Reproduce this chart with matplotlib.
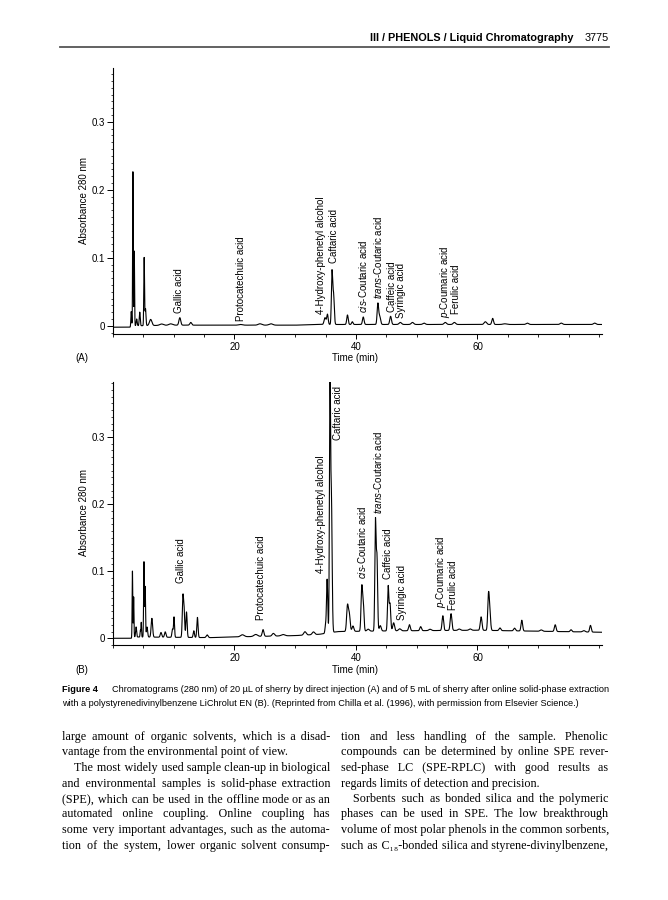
import numpy as np
import matplotlib
matplotlib.use("Agg")
import matplotlib.pyplot as plt
from matplotlib.ticker import MultipleLocator, FuncFormatter
from matplotlib.font_manager import FontProperties

plt.rcParams['font.family'] = 'Liberation Sans'
plt.rcParams['mathtext.fontset'] = 'custom'
plt.rcParams['mathtext.rm'] = 'Liberation Sans'
plt.rcParams['mathtext.it'] = 'Liberation Sans:italic'

W, H = 668, 900

# chromatogram (A): peaks -- time (min), height (AU), sigma (min)
a_times = [3.0, 3.28, 3.5, 3.9, 4.4, 5.13, 5.35, 6.2, 8.0, 9.5, 11.0, 12.8,
           21.0, 24.2, 26.0, 34.9, 35.3, 36.05, 36.3, 38.6, 39.4, 41.2, 43.6,
           43.9, 45.7, 47.3, 49.3, 51.2, 54.7, 56.2, 61.3, 62.5, 64.5, 68.2,
           73.8, 79.3]
a_heights = [0.022, 0.228, 0.11, 0.01, 0.02, 0.1, 0.025, 0.009, 0.002, 0.002,
             0.011, 0.004, 0.001, 0.002, 0.002, 0.01, 0.015, 0.075, 0.045,
             0.014, 0.004, 0.011, 0.03, 0.012, 0.012, 0.003, 0.003, 0.002,
             0.003, 0.003, 0.004, 0.009, 0.001, 0.002, 0.002, 0.002]
a_widths = [0.06, 0.05, 0.05, 0.08, 0.08, 0.06, 0.08, 0.2, 0.3, 0.3, 0.15,
            0.15, 0.3, 0.3, 0.3, 0.15, 0.12, 0.1, 0.12, 0.12, 0.12, 0.13, 0.12,
            0.15, 0.14, 0.2, 0.2, 0.2, 0.2, 0.2, 0.2, 0.14, 0.3, 0.2, 0.2, 0.2]
a_base_t = [0, 2.8, 3.2, 10, 30, 34, 40, 60, 80.5]
a_base_y = [-0.002, -0.002, 0.0, 0.001, 0.001, 0.002, 0.002, 0.002, 0.002]

# chromatogram (B)
b_times = [3.2, 3.4, 3.8, 4.5, 4.65, 5.1, 5.3, 5.6, 6.4, 7.9, 8.6, 9.8, 10.05,
           11.5, 11.7, 12.1, 13.3, 13.9, 15.5, 21.3, 23.5, 24.7, 26.4, 28.0,
           31.6, 33.0, 35.0, 35.25, 35.72, 35.95, 38.6, 38.9, 39.5, 40.95,
           41.2, 42.0, 43.2, 43.45, 44.0, 45.3, 45.6, 46.2, 47.2, 48.8, 50.65,
           52.2, 54.3, 55.65, 57.0, 58.8, 60.6, 61.8, 62.0, 63.7, 66.1, 67.3,
           70.5, 72.8, 75.4, 77.5, 78.6]
b_heights = [0.1, 0.06, 0.015, 0.01, 0.022, 0.112, 0.075, 0.015, 0.028, 0.007,
             0.008, 0.012, 0.03, 0.058, 0.04, 0.038, 0.01, 0.03, 0.004, 0.003,
             0.003, 0.01, 0.004, 0.002, 0.005, 0.004, 0.012, 0.08, 0.36, 0.2,
             0.038, 0.025, 0.008, 0.064, 0.04, 0.003, 0.16, 0.11, 0.008, 0.066,
             0.04, 0.012, 0.003, 0.009, 0.006, 0.002, 0.022, 0.025, 0.002,
             0.002, 0.02, 0.045, 0.03, 0.004, 0.004, 0.016, 0.002, 0.01, 0.003,
             0.002, 0.01]
b_widths = [0.05, 0.05, 0.08, 0.05, 0.05, 0.06, 0.06, 0.1, 0.12, 0.12, 0.12,
            0.1, 0.08, 0.1, 0.1, 0.1, 0.1, 0.1, 0.15, 0.3, 0.3, 0.14, 0.2, 0.3,
            0.2, 0.2, 0.1, 0.1, 0.09, 0.12, 0.14, 0.14, 0.15, 0.12, 0.12, 0.2,
            0.1, 0.11, 0.15, 0.11, 0.12, 0.15, 0.2, 0.14, 0.14, 0.2, 0.13,
            0.14, 0.2, 0.2, 0.14, 0.12, 0.14, 0.15, 0.15, 0.13, 0.2, 0.14, 0.14,
            0.2, 0.13]
b_base_t = [0, 3.0, 3.4, 16, 20, 30, 34, 37, 45, 60, 80.5]
b_base_y = [0.0, 0.0, 0.002, 0.001, 0.002, 0.004, 0.006, 0.01, 0.011, 0.012, 0.009]

peak_names = ['Gallic acid', 'Protocatechuic acid', '4-Hydroxy-phenetyl alcohol',
              'Caftaric acid', r'$\mathit{cis}$-Coutaric acid',
              r'$\mathit{trans}$-Coutaric acid', 'Caffeic acid', 'Syringic acid',
              r'$\mathit{p}$-Coumaric acid', 'Ferulic acid']
a_label_t = [10.9, 21.1, 34.3, 36.4, 41.2, 43.7, 46.0, 47.4, 54.6, 56.4]
a_label_y = [0.019, 0.007, 0.017, 0.092, 0.019, 0.039, 0.021, 0.012, 0.011, 0.017]
b_label_t = [11.2, 24.3, 34.3, 37.0, 40.95, 43.6, 45.2, 47.6, 54.0, 56.0]
b_label_y = [0.082, 0.027, 0.097, 0.295, 0.089, 0.186, 0.089, 0.027, 0.045, 0.042]

caption_1 = ('Chromatograms (280 nm) of 20 \u00b5L of sherry by direct injection (A) '
             'and of 5 mL of sherry after online solid-phase extraction')
caption_2 = ('with a polystyrenedivinylbenzene LiChrolut EN (B). (Reprinted from '
             'Chilla et al. (1996), with permission from Elsevier Science.)')

# (line, indented, justified)
left_col = [
    ('large amount of organic solvents, which is a disad-', False, True),
    ('vantage from the environmental point of view.', False, False),
    ('The most widely used sample clean-up in biological', True, True),
    ('and environmental samples is solid-phase extraction', False, True),
    ('(SPE), which can be used in the offline mode or as an', False, True),
    ('automated online coupling. Online coupling has', False, True),
    ('some very important advantages, such as the automa-', False, True),
    ('tion of the system, lower organic solvent consump-', False, True),
]
right_col = [
    ('tion and less handling of the sample. Phenolic', False, True),
    ('compounds can be determined by online SPE rever-', False, True),
    ('sed-phase LC (SPE-RPLC) with good results as', False, True),
    ('regards limits of detection and precision.', False, False),
    ('Sorbents such as bonded silica and the polymeric', True, True),
    ('phases can be used in SPE. The low breakthrough', False, True),
    ('volume of most polar phenols in the common sorbents,', False, True),
    ('such as C\u2081\u2088-bonded silica and styrene-divinylbenzene,', False, True),
]

body_family = ['Liberation Serif', 'DejaVu Serif']


def trace(t, times, heights, widths, base_t, base_y):
    y = np.interp(t, base_t, base_y)
    for t0, h, s in zip(times, heights, widths):
        y = y + h * np.exp(-0.5 * ((t - t0) / s) ** 2)
    return y


def px_axes(fig, x0, y0, x1, y1):
    return fig.add_axes([x0 / W, 1 - y1 / H, (x1 - x0) / W, (y1 - y0) / H])


def style_axes(ax, ymin, ymax):
    ax.set_xlim(0, 80.5)
    ax.set_ylim(ymin, ymax)
    for side in ['top', 'right']:
        ax.spines[side].set_visible(False)
    for side in ['left', 'bottom']:
        ax.spines[side].set_linewidth(0.8)
    ax.set_xticks([20, 40, 60])
    ax.xaxis.set_minor_locator(MultipleLocator(5))
    ax.set_yticks([0, 0.1, 0.2, 0.3])
    ax.yaxis.set_minor_locator(MultipleLocator(0.01))
    ax.yaxis.set_major_formatter(FuncFormatter(lambda v, _: '0' if abs(v) < 1e-9 else f'{v:.1f}'))
    ax.tick_params(axis='both', which='major', labelsize=7, width=0.7, pad=2)
    ax.tick_params(axis='x', which='major', length=3.5)
    ax.tick_params(axis='x', which='minor', length=2.2, width=0.6)
    ax.tick_params(axis='y', which='major', length=4)
    ax.tick_params(axis='y', which='minor', length=1.8, width=0.5)


def text_width(renderer, s, prop):
    return renderer.get_text_width_height_descent(s, prop, ismath=False)[0]


def body_line(fig, renderer, text, x0, x1, y, indent, full, prop):
    # justify by padding the word gaps with hair spaces, one text object per line
    start = x0 + (12 if indent else 0)
    if full:
        words = text.split(' ')
        gaps = len(words) - 1
        natural = text_width(renderer, text, prop)
        hair = text_width(renderer, '\u200a' * 20, prop) / 20
        n = max(0, int(round((x1 - start - natural) / hair)))
        parts = [words[0]]
        for i, w in enumerate(words[1:]):
            k = n // gaps + (1 if i < n % gaps else 0)
            parts.append(' ' + '\u200a' * k + w)
        text = ''.join(parts)
    fig.text(start / W, 1 - y / H, text, fontproperties=prop, va='baseline', ha='left')


fig = plt.figure(figsize=(W / 100, H / 100), dpi=100)
renderer = fig.canvas.get_renderer()

# running header
fig.text(573 / W, 1 - 38 / H, 'III / PHENOLS / Liquid Chromatography', ha='right',
         va='center', fontsize=7.8, fontweight='bold')
fig.text(609 / W, 1 - 38 / H, '3775', ha='right', va='center', fontsize=7.8)
fig.add_artist(plt.Line2D([60 / W, 609 / W], [1 - 47 / H, 1 - 47 / H], color='#555555', lw=1.3))

t = np.linspace(0, 80.5, 6000)

panels = [
    (68, 334, -0.012, 0.379, a_times, a_heights, a_widths, a_base_t, a_base_y,
     a_label_t, a_label_y, '(A)', 358, 201),
    (382, 645, -0.010, 0.382, b_times, b_heights, b_widths, b_base_t, b_base_y,
     b_label_t, b_label_y, '(B)', 670, 513),
]
for (top, bot, ymin, ymax, tt, hh, ww, bt, by, lt, ly, tag, tag_y, ylab_y) in panels:
    ax = px_axes(fig, 113, top, 602, bot)
    style_axes(ax, ymin, ymax)
    ax.plot(t, trace(t, tt, hh, ww, bt, by), color='black', lw=0.8)
    for name, x, y in zip(peak_names, lt, ly):
        ax.text(x, y, name, rotation=90, ha='center', va='bottom', fontsize=7)
    fig.text(355 / W, 1 - tag_y / H, 'Time (min)', ha='center', va='center', fontsize=7)
    fig.text(82 / W, 1 - tag_y / H, tag, ha='center', va='center', fontsize=7)
    fig.text(84 / W, 1 - ylab_y / H, 'Absorbance 280 nm', rotation=90, ha='center',
             va='center', fontsize=7)

# caption
fig.text(62 / W, 1 - 690 / H, 'Figure 4', ha='left', va='center', fontsize=6.6,
         fontweight='bold')
fig.text(112 / W, 1 - 690 / H, caption_1, ha='left', va='center', fontsize=6.6)
fig.text(62 / W, 1 - 703 / H, caption_2, ha='left', va='center', fontsize=6.6)

# body text: font size chosen so the longest justified line just fits its column
columns = [(left_col, 62, 330), (right_col, 341, 608)]
ref_prop = FontProperties(family=body_family, size=10)
size = 9.4
for col, x0, x1 in columns:
    for line, indent, full in col:
        if full:
            wid = text_width(renderer, line, ref_prop)
            size = min(size, 10 * (x1 - x0 - (12 if indent else 0)) / wid * 0.995)
body_prop = FontProperties(family=body_family, size=size)
for col, x0, x1 in columns:
    for i, (line, indent, full) in enumerate(col):
        body_line(fig, renderer, line, x0, x1, 740 + i * 15.5, indent, full, body_prop)

fig.savefig('out.png', dpi=100)
